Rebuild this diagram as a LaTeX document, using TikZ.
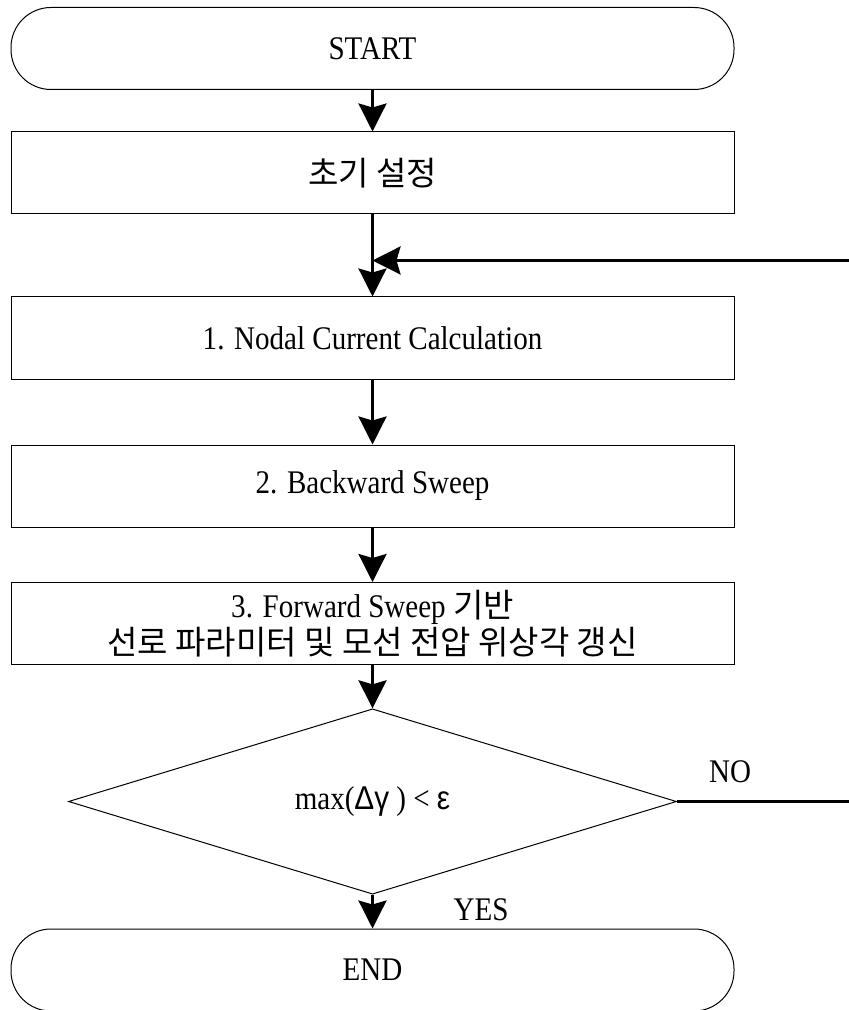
\documentclass[tikz,border=0pt]{standalone}
\usepackage{fontspec}
\setmainfont{Liberation Serif}[FakeStretch=0.88]
\newfontfamily\kr{Noto Sans CJK KR}
\newfontfamily\grk{Liberation Sans}[FakeStretch=0.9]
\usetikzlibrary{arrows.meta,shapes.geometric}

\begin{document}
\begin{tikzpicture}[x=0.5pt,y=-0.5pt]
  \tikzset{every node/.style={text centered,inner sep=0pt,font=\fontsize{16.5}{14.5}\selectfont},
    box/.style={draw,line width=0.5pt,minimum width=361.5pt,minimum height=41pt,align=center},
    term/.style={box,rounded corners=20pt},
    flow/.style={line width=1.45pt,-{Stealth[length=14pt,width=14pt,inset=2pt]}}};
  \useasboundingbox (0,0) rectangle (848,1010);
  \node[term] (S) at (372.5,48.5){START};
  \node[box] (I) at (372.5,173){\kr 초기 설정};
  \node[box] (N1) at (372.5,338){1. Nodal Current Calculation};
  \node[box] (N2) at (372.5,486){2. Backward Sweep};
  \node[box] (N3) at (372.5,623.5){3. Forward Sweep {\kr 기반}\\{\kr 선로 파라미터 및 모선 전압 위상각 갱신}};
  \node[draw,diamond,line width=0.5pt,minimum width=304pt,minimum height=85.5pt] (C) at (372.5,801.5)
    {max({\grk Δγ} ) < {\grk ε}};
  \node[term] (E) at (372.5,970){END};
  \node (no) at (730,772){NO};
  \node (yes) at (481,910){YES};
  \coordinate (J) at (372.5,260.5);
  \coordinate (turn) at (858,801.5);
  \draw[flow] (S) -- (I);
  \draw[flow] (I) -- (N1);
  \draw[flow] (N1) -- (N2);
  \draw[flow] (N2) -- (N3);
  \draw[flow] (N3) -- (C);
  \draw[flow] (C) -- (E);
  \draw[flow] (C.east) -- (turn) |- (J);
\end{tikzpicture}
\end{document}
